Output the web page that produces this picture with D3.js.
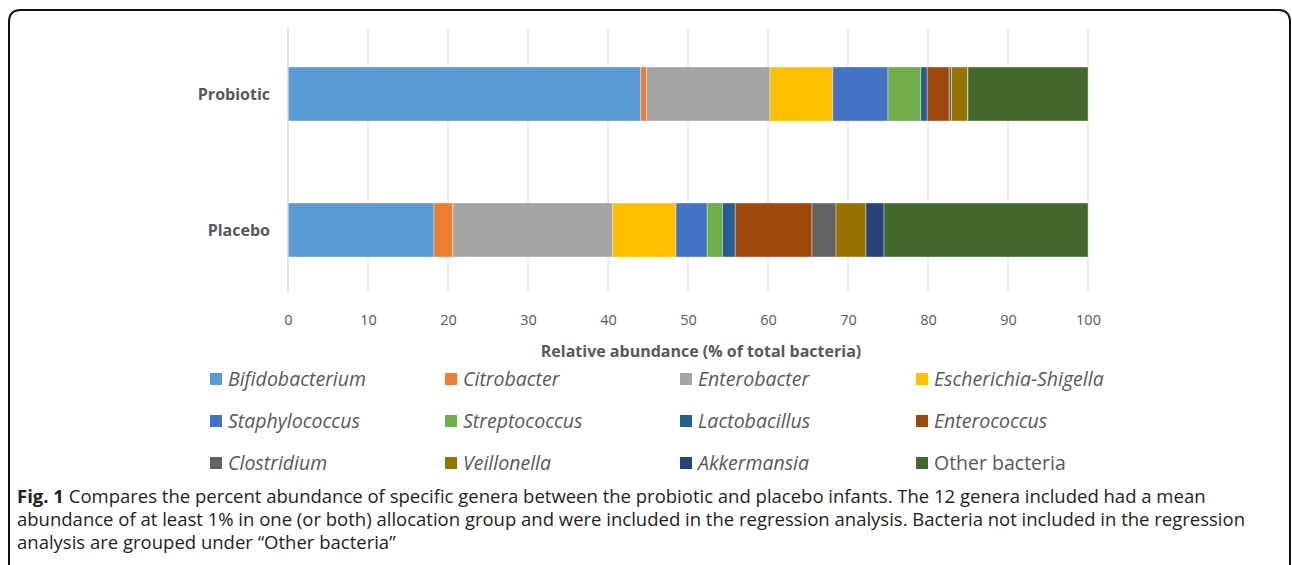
<!DOCTYPE html>
<html><head><meta charset="utf-8">
<script src="https://cdn.jsdelivr.net/npm/d3@7"></script>
<style>
html,body{margin:0;padding:0;background:#fff;}
svg{display:block;}
</style></head>
<body>
<svg id="chart" width="1292" height="565"></svg>
<script>
const groups = ["Probiotic", "Placebo"];
const genera = ["Bifidobacterium","Citrobacter","Enterobacter","Escherichia-Shigella","Staphylococcus","Streptococcus","Lactobacillus","Enterococcus","Clostridium","Veillonella","Akkermansia","Other bacteria"];
const italicGenera = [true,true,true,true,true,true,true,true,true,true,true,false];
const probioticValues = [44.1, 0.7, 15.45, 7.85, 6.9, 4.1, 0.8, 2.75, 0.3, 2.0, 0.05, 15.0];
const placeboValues = [18.25, 2.35, 20.0, 7.9, 3.9, 1.9, 1.6, 9.6, 3.0, 3.75, 2.25, 25.5];
const colors = ["#5b9bd5","#ed7d31","#a5a5a5","#ffc000","#4472c4","#70ad47","#255e91","#9e480e","#636363","#997300","#264478","#43682b"];
const xTicks = [0,10,20,30,40,50,60,70,80,90,100];
const xTitle = "Relative abundance (% of total bacteria)";
const captionLines = [
  [{t:"Fig. 1",b:true},{t:" Compares the percent abundance of specific genera between the probiotic and placebo infants. The 12 genera included had a mean",b:false}],
  [{t:"abundance of at least 1% in one (or both) allocation group and were included in the regression analysis. Bacteria not included in the regression",b:false}],
  [{t:"analysis are grouped under \u201cOther bacteria\u201d",b:false}]
];

const svg = d3.select("#chart");
const font = "'Open Sans', sans-serif";

// card border
svg.append("path")
  .attr("d","M9,575 L9,22 Q9,10 21,10 L1278,10 Q1290,10 1290,22 L1290,575")
  .attr("fill","none").attr("stroke","#111").attr("stroke-width",2);

const x = d3.scaleLinear().domain([0,100]).range([288,1088]);
const y = d3.scaleBand().domain(groups).range([26.2,297.8]).paddingInner(0.603).paddingOuter(0.3);

// gridlines
svg.append("g").selectAll("line").data(xTicks).join("line")
  .attr("x1",d=>x(d)).attr("x2",d=>x(d)).attr("y1",28).attr("y2",292)
  .attr("stroke","#d9d9d9").attr("stroke-width",1);

// stacked data
const rows = groups.map((g,i)=>{
  const vals = i===0?probioticValues:placeboValues;
  const o = {group:g};
  genera.forEach((k,j)=>o[k]=vals[j]);
  return o;
});
const stack = d3.stack().keys(genera)(rows);
const color = d3.scaleOrdinal().domain(genera).range(colors);

svg.append("g").selectAll("g").data(stack).join("g")
  .attr("fill",d=>color(d.key))
  .selectAll("rect").data(d=>d).join("rect")
  .attr("x",d=>x(d[0])).attr("width",d=>Math.max(0,x(d[1])-x(d[0])))
  .attr("y",d=>y(d.data.group)).attr("height",y.bandwidth())
  .attr("stroke","rgba(255,255,255,0.45)").attr("stroke-width",0.8);

// y axis line
svg.append("line").attr("x1",288).attr("x2",288).attr("y1",28).attr("y2",292)
  .attr("stroke","#d9d9d9");

// category labels
svg.append("g").selectAll("text").data(groups).join("text")
  .attr("x",270).attr("y",d=>y(d)+y.bandwidth()/2)
  .attr("dy","0.35em").attr("text-anchor","end")
  .attr("font-family",font).attr("font-weight","bold").attr("font-size",16)
  .attr("fill","#595959").text(d=>d);

// x axis
const xAxis = d3.axisBottom(x).tickValues(xTicks).tickSize(0).tickPadding(0);
const ax = svg.append("g").attr("transform","translate(0,320)").call(xAxis);
ax.select(".domain").remove();
ax.selectAll("text").attr("font-family",font).attr("font-size",14.5).attr("fill","#595959").attr("dy","0.35em").attr("y",0);

svg.append("text").attr("x",701).attr("y",351).attr("dy","0.35em")
  .attr("text-anchor","middle").attr("font-family",font).attr("font-weight","bold")
  .attr("font-size",16).attr("fill","#595959").text(xTitle);

// legend
const legX = [210,445,680,916];
const legY = [379,421,463];
const leg = svg.append("g").selectAll("g").data(genera).join("g")
  .attr("transform",(d,i)=>`translate(${legX[i%4]},${legY[Math.floor(i/4)]})`);
leg.append("rect").attr("x",0).attr("y",-6).attr("width",12).attr("height",12)
  .attr("fill",d=>color(d));
leg.append("text").attr("x",18).attr("y",0).attr("dy","0.35em")
  .attr("font-family",font).attr("font-size",19.5)
  .attr("font-style",(d,i)=>italicGenera[i]?"italic":"normal")
  .attr("fill","#595959").text(d=>d);

// caption
const cap = svg.append("g");
const capTexts = captionLines.map((line,i)=>{
  const t = cap.append("text").attr("x",17).attr("y",497+i*23).attr("dy","0.35em")
    .attr("font-family",font).attr("font-size",16).attr("fill","#231f20");
  line.forEach(s=>t.append("tspan").attr("font-weight",s.b?"bold":"normal").text(s.t));
  return t;
});
// fit font size so line 1 spans to the reference width
const w1 = capTexts[0].node().getComputedTextLength();
const fs = Math.min(18.5, 16 * 1216 / w1);
capTexts.forEach(t=>t.attr("font-size",fs));
</script>
</body></html>
